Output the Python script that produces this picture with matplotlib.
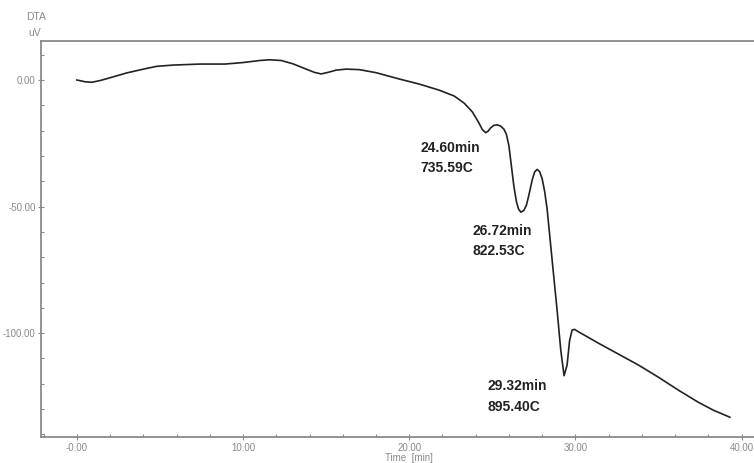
import matplotlib.pyplot as plt
from matplotlib.ticker import MultipleLocator

# DTA trace, time in min, signal in uV
time = [0.0, 0.5, 0.9, 1.4, 2.0, 3.0, 4.0, 4.8, 5.8, 7.4, 8.9, 10.0, 11.0,
        11.6, 12.3, 13.0, 13.8, 14.3, 14.7, 15.1, 15.6, 16.2, 17.0, 18.0,
        19.4, 20.6, 21.8, 22.7, 23.3, 23.8, 24.2, 24.4, 24.6, 24.75, 24.9,
        25.1, 25.3, 25.5, 25.7, 25.85, 26.0, 26.15, 26.3, 26.45, 26.58, 26.72,
        26.9, 27.05, 27.2, 27.4, 27.55, 27.7, 27.85, 28.0, 28.15, 28.3, 28.6,
        28.9, 29.12, 29.32, 29.5, 29.65, 29.8, 29.95, 30.2, 31.4, 32.6, 33.8,
        35.0, 36.2, 37.4, 38.3, 39.3]
dta = [0.0, -0.7, -0.9, -0.2, 0.9, 2.8, 4.3, 5.4, 5.9, 6.3, 6.3, 6.9, 7.7,
       8.0, 7.7, 6.4, 4.3, 3.0, 2.4, 3.0, 3.9, 4.3, 4.1, 2.9,
       0.4, -1.6, -4.0, -6.3, -9.1, -12.6, -17.0, -19.6, -20.8, -20.2, -18.9,
       -17.9, -17.7, -18.2, -19.4, -21.5, -26.0, -34.0, -42.0, -48.0, -51.0, -52.2,
       -51.5, -49.5, -45.5, -39.5, -36.3, -35.3, -36.2, -39.0, -44.0, -51.0, -71.1,
       -90.9, -106.7, -116.8, -112.6, -103.0, -98.8, -98.5, -99.5, -104.0, -108.3, -112.6,
       -117.4, -122.5, -127.3, -130.4, -133.2]

# peak labels: time, temperature, label anchor (time, uV)
peak_time = [24.60, 26.72, 29.32]
peak_temp = [735.59, 822.53, 895.40]
label_pos = [(20.66, -26.9), (23.8, -59.7), (24.7, -121.0)]

xticks = [0, 10, 20, 30, 40]
xticklabels = ['-0.00', '10.00', '20.00', '30.00', '40.00']
yticks = [0, -50, -100]
yticklabels = ['0.00', '-50.00', '-100.00']

fig = plt.figure(figsize=(7.54, 4.63), dpi=100)
ax = fig.add_axes([0.0544, 0.0562, 0.9456, 0.8552])

ax.plot(time, dta, color='#222222', lw=1.2)

for (t, temp, (lx, ly)) in zip(peak_time, peak_temp, label_pos):
    ax.text(lx, ly, f'{t:.2f}min', fontsize=10, fontweight='bold',
            family='Liberation Sans', color='#222222', va='center')
    ax.text(lx, ly - 8.0, f'{temp:.2f}C', fontsize=10, fontweight='bold',
            family='Liberation Sans', color='#222222', va='center')

ax.set_xlim(-2.16, 40.75)
ax.set_ylim(-141, 15.4)

ax.set_xticks(xticks)
ax.set_xticklabels(xticklabels)
ax.set_yticks(yticks)
ax.set_yticklabels(yticklabels)
ax.xaxis.set_minor_locator(MultipleLocator(2))
ax.yaxis.set_minor_locator(MultipleLocator(10))

axis_grey = '#8a8a8a'
ax.spines['right'].set_visible(False)
for side in ['left', 'top', 'bottom']:
    ax.spines[side].set_color(axis_grey)
    ax.spines[side].set_linewidth(1.3)

ax.tick_params(which='major', direction='inout', length=5, width=0.8,
               color=axis_grey, labelsize=7.0, labelcolor='#8a8a8a', pad=1.5)
ax.tick_params(which='minor', direction='in', length=2.5, width=0.8,
               color=axis_grey)
ax.tick_params(top=False, which='both')
for lbl in ax.get_xticklabels() + ax.get_yticklabels():
    lbl.set_family('Liberation Sans')

fig.text(0.542, 0.0, 'Time  [min]', fontsize=7.0, color='#8a8a8a',
         family='Liberation Sans', ha='center', va='bottom')
fig.text(0.048, 0.963, 'DTA', fontsize=7.5, color='#8a8a8a',
         family='Liberation Sans', ha='center', va='center')
fig.text(0.046, 0.929, 'uV', fontsize=7.5, color='#8a8a8a',
         family='Liberation Sans', ha='center', va='center')

fig.savefig('out.png', dpi=100)
